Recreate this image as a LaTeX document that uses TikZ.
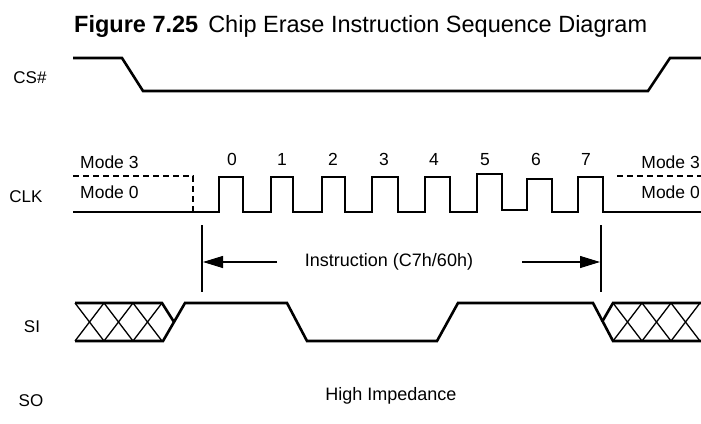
\documentclass[tikz,border=0pt]{standalone}
\usepackage{fontspec}
\setmainfont{Liberation Sans}
\usetikzlibrary{arrows.meta}
\begin{document}
\begin{tikzpicture}[x=1pt,y=-1pt,
  wave/.style={line width=2.6pt, line join=miter},
  dashwave/.style={line width=2.6pt, dash pattern=on 6pt off 4pt},
  hatch/.style={line width=1.3pt},
  guide/.style={line width=1.1pt},
  lbl/.style={font=\fontsize{17}{19}\selectfont, inner sep=0pt},
  txt/.style={font=\fontsize{17.5}{19}\selectfont, inner sep=0pt},
  dimarrow/.style={line width=1.1pt, -{Triangle[length=20pt,width=12pt]}}
]
\useasboundingbox (0,0) rectangle (701,423);
% title
\node[anchor=base west, inner sep=0pt, font=\fontsize{23.5}{27}\selectfont] (title) at (74,32)
  {\textbf{Figure 7.25}\hspace{10pt}Chip Erase Instruction Sequence Diagram};
% signal labels
\node[lbl] (cs) at (30,78) {CS\#};
\node[lbl] (clk) at (26,197) {CLK};
\node[lbl] (si) at (32,327) {SI};
\node[lbl] (so) at (31,401) {SO};
% CS#
\draw[wave] (73,58) -- (122,58) -- (143,91) -- (648,91) -- (670,58) -- (701,58);
% CLK
\draw[dashwave] (73,176) -- (193,176) -- (193,212);
\draw[dashwave] (617,176) -- (701,176);
\draw[wave] (73,212) -- (219,212) -- (219,177) -- (243,177) -- (243,212)
  -- (271,212) -- (271,177) -- (293,177) -- (293,212)
  -- (322,212) -- (322,177) -- (345,177) -- (345,212)
  -- (372,212) -- (372,177) -- (398,177) -- (398,212)
  -- (425,212) -- (425,177) -- (450,177) -- (450,212)
  -- (477,212) -- (477,174) -- (502,174) -- (502,210)
  -- (527,210) -- (527,179) -- (552,179) -- (552,212)
  -- (578,212) -- (578,177) -- (603,177) -- (603,212) -- (701,212);
\node[txt, anchor=west] (m3l) at (80,162) {Mode 3};
\node[txt, anchor=west] (m0l) at (80,192) {Mode 0};
\node[txt, anchor=east] (m3r) at (700,162) {Mode 3};
\node[txt, anchor=east] (m0r) at (700,192) {Mode 0};
\foreach \n/\x in {0/232,1/282,2/333,3/384,4/434,5/485,6/536,7/586}
  \node[txt, anchor=base] (b\n) at (\x,165.5) {\n};
% instruction span
\coordinate (vl0) at (202,225);
\coordinate (vl1) at (202,292);
\coordinate (vr0) at (601,225);
\coordinate (vr1) at (601,292);
\draw[guide] (vl0) -- (vl1);
\draw[guide] (vr0) -- (vr1);
\node[txt, font=\fontsize{18}{20}\selectfont] (instr) at (389,262) {Instruction (C7h/60h)};
\coordinate (al0) at (277,262);
\coordinate (al1) at (203,262);
\coordinate (ar0) at (522,262);
\coordinate (ar1) at (600,262);
\draw[dimarrow] (al0) -- (al1);
\draw[dimarrow] (ar0) -- (ar1);
% SI
\foreach \a in {75,104,133}
  \draw[hatch] (\a,303) -- (\a+29,341) (\a,341) -- (\a+29,303);
\foreach \a in {613,642,671}
  \draw[hatch] (\a,303) -- (\a+29,341) (\a,341) -- (\a+29,303);
\draw[wave] (75,303) -- (162,303) -- (174,322);
\draw[wave] (75,341) -- (163,341) -- (185,303) -- (287,303) -- (307,341)
  -- (437,341) -- (458,303) -- (593,303) -- (613,341) -- (701,341);
\draw[wave] (602,322) -- (613,303) -- (701,303);
% SO
\node[txt, font=\fontsize{18}{20}\selectfont] (hiz) at (391,396) {High Impedance};
\end{tikzpicture}
\end{document}
